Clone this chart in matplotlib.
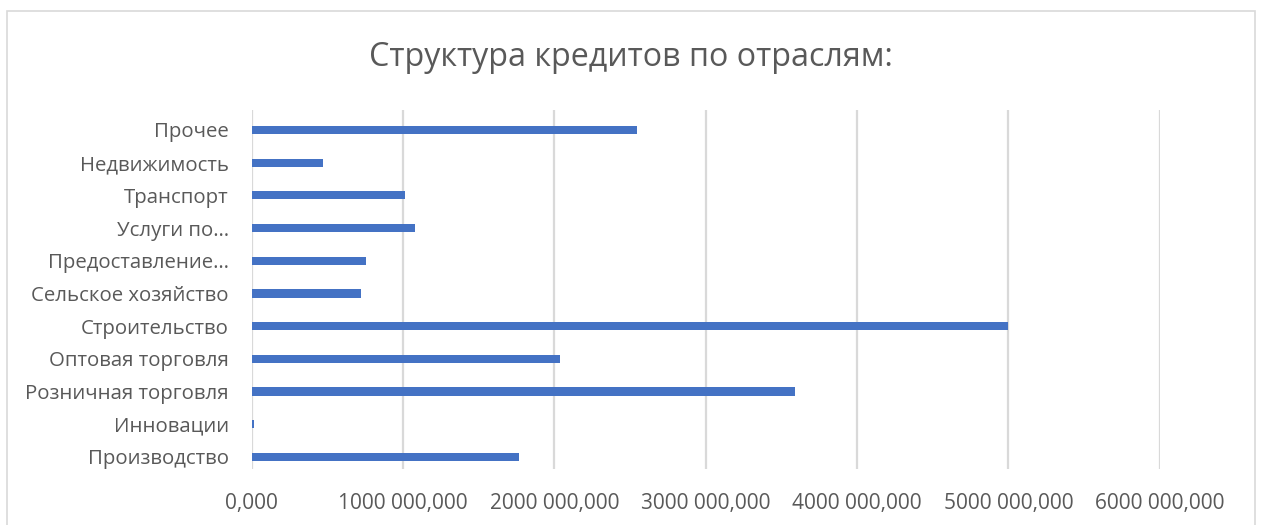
import matplotlib.pyplot as plt
from matplotlib.patches import Rectangle

# credit volume by industry (bottom to top, as drawn)
sectors = ["Производство", "Инновации", "Розничная торговля", "Оптовая торговля",
           "Строительство", "Сельское хозяйство", "Предоставление…", "Услуги по…",
           "Транспорт", "Недвижимость", "Прочее"]
credits = [1767000, 15000, 3591000, 2038000, 5000000, 722000, 755000, 1077000,
           1015000, 471000, 2547000]

x_ticks = [0, 1000000, 2000000, 3000000, 4000000, 5000000, 6000000]
x_tick_labels = ["0,000", "1000 000,000", "2000 000,000", "3000 000,000",
                 "4000 000,000", "5000 000,000", "6000 000,000"]

plt.rcParams["font.family"] = ["Open Sans", "DejaVu Sans"]

fig = plt.figure(figsize=(12.61, 5.25), dpi=100)
ax = fig.add_axes([0.1996, 56 / 525, 0.7201, 359 / 525])

# outer chart frame
fig.patches.append(Rectangle((7 / 1261, -0.01), 1248 / 1261, 1 - 11 / 525 + 0.01,
                             transform=fig.transFigure, fill=False,
                             edgecolor="#d9d9d9", lw=1.2))

ypos = range(len(sectors))
ax.barh(ypos, credits, height=0.25, color="#4472C4", zorder=3)

ax.set_xlim(0, 6000000)
ax.set_ylim(-0.37, len(sectors) - 0.39)
ax.set_xticks(x_ticks)
ax.set_xticklabels(x_tick_labels, fontsize=15, color="#595959")
ax.set_yticks(list(ypos))
ax.set_yticklabels(sectors, fontsize=14.7, color="#595959")
ax.tick_params(axis="both", length=0)
ax.tick_params(axis="y", pad=16.5)
ax.tick_params(axis="x", pad=17)
ax.grid(axis="x", color="#d9d9d9", lw=1.6, zorder=0)
for s in ax.spines.values():
    s.set_visible(False)

fig.text(0.5, 1 - 58 / 525, "Структура кредитов по отраслям:", ha="center", va="center",
         fontsize=23.2, color="#595959")

fig.savefig("out.png", dpi=100)
